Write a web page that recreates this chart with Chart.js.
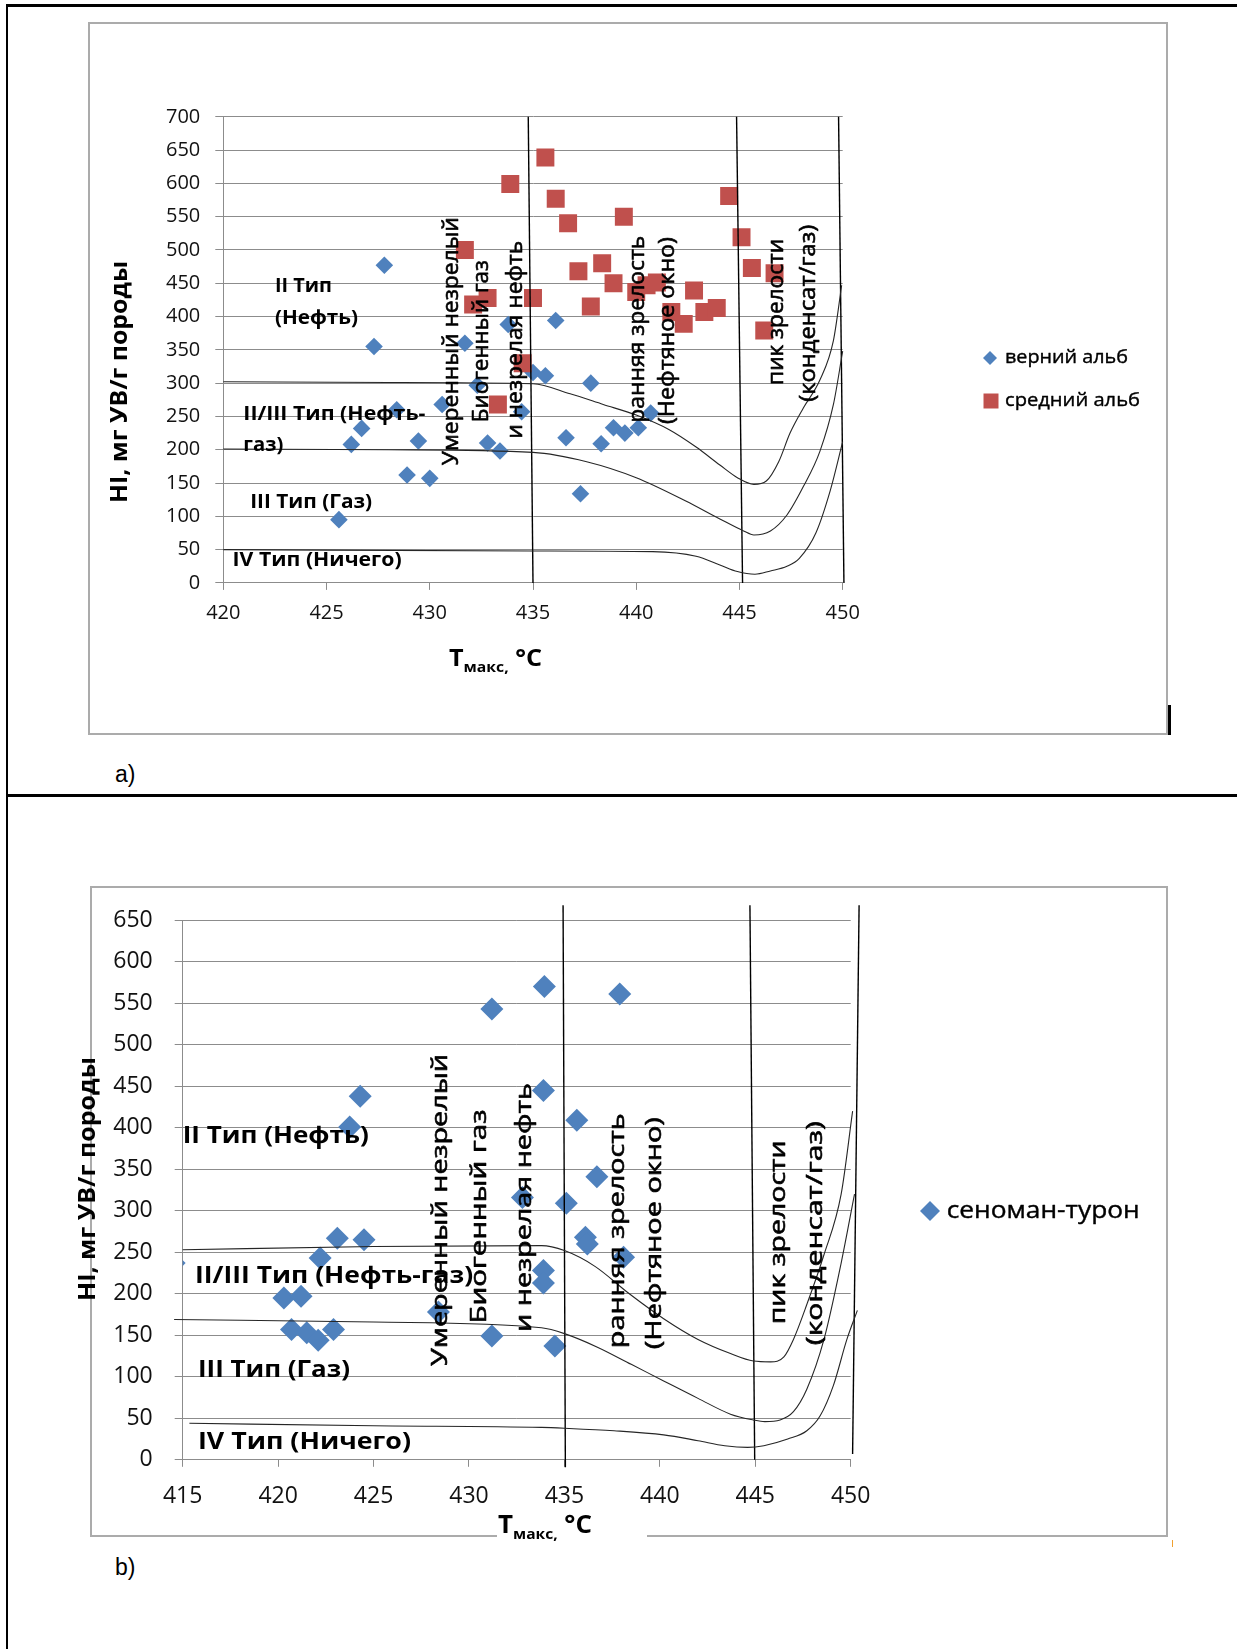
<!DOCTYPE html>
<html>
<head>
<meta charset="utf-8">
<script src="https://cdn.jsdelivr.net/npm/chart.js"></script>
<style>
    html, body { margin: 0; padding: 0; background: #fff; }
    body { width: 1237px; height: 1649px; position: relative; overflow: hidden; }
    .rule { position: absolute; background: #000; }
    .frame { position: absolute; box-sizing: border-box; border: 2px solid #ababab; }
    .cap { position: absolute; font-family: "Liberation Sans", Arial, sans-serif; font-size: 23px; color: #000; line-height: 26px; }
    canvas { position: absolute; left: 0; }
</style>
</head>
<body>
<div class="rule" style="left:6px;top:4px;width:1231px;height:3px"></div>
<div class="rule" style="left:6px;top:4px;width:2px;height:1645px"></div>
<div class="rule" style="left:6px;top:794px;width:1231px;height:3px"></div>
<div class="frame" style="left:88px;top:22px;width:1080px;height:713px"></div>
<div class="frame" style="left:90px;top:886px;width:1078px;height:651px"></div>
<div class="rule" style="left:1168px;top:705px;width:3px;height:30px"></div>
<div style="position:absolute;left:1172px;top:1540px;width:1px;height:7px;background:#f0a030"></div>
<div class="cap" style="left:115px;top:761px">a)</div>
<div class="cap" style="left:115px;top:1554px">b)</div>
<canvas id="chartA" width="1237" height="790" style="top:0"></canvas>
<canvas id="chartB" width="1237" height="800" style="top:800px"></canvas>

<script>
/**------------------------------------------------------------------------------------------------  DATA  */
// a) верний альб
const upperAlbT  = [425.6, 426.2, 426.7, 427.3, 427.8, 428.4, 428.9, 429.45, 430.0, 430.6, 431.7, 432.3, 432.8, 433.4,
                    433.8, 434.45, 435.0, 435.6, 436.1, 436.6, 437.3, 437.8, 438.3, 438.9, 439.45, 440.1, 440.7];
const upperAlbHI = [95, 208, 232, 355, 477, 260, 162, 213, 157, 268, 360, 297, 210, 198,
                    388, 257, 316, 311, 394, 218, 134, 300, 209, 233, 225, 233, 255];
// a) средний альб
const middleAlbT  = [431.7, 432.1, 432.8, 433.3, 433.9, 434.5, 435.0, 435.6, 436.1, 436.7, 437.2, 437.8, 438.35, 438.9,
                     439.4, 440.0, 440.5, 441.0, 441.7, 442.3, 442.8, 443.3, 443.9, 444.5, 445.1, 445.6, 446.2, 446.7];
const middleAlbHI = [500, 418, 428, 268, 599, 330, 428, 639, 577, 540, 468, 415, 480, 450,
                     550, 437, 447, 451, 407, 389, 439, 407, 413, 581, 519, 473, 379, 465];
// b) сеноман-турон
const cenTurT  = [414.55, 414.55, 414.55, 420.3, 420.7, 421.2, 421.5, 422.1, 422.2, 422.9, 423.1, 423.75, 424.3, 424.5, 428.4,
                  431.2, 431.2, 432.8, 433.9, 433.9, 433.9, 433.95, 434.5, 435.1, 435.65, 436.1, 436.2, 436.7, 437.9, 438.1];
const cenTurHI = [432, 340, 237, 195, 157, 197, 153, 144, 243, 157, 267, 401, 438, 265, 178,
                  543, 149, 316, 445, 228, 213, 570, 137, 309, 409, 268, 260, 341, 561, 244];

// kerogen type boundaries, a)
const aTopT  = [420, 428, 435, 436.8, 438.4, 440.0, 441.6, 442.9, 444.05, 444.9, 445.7, 446.3, 446.9, 447.45, 448.1, 448.9, 449.55, 449.95];
const aTopHI = [302, 301, 299, 284, 268, 252, 230, 204, 177, 158, 148, 153, 182, 225, 263, 305, 364, 447];
const aMidT  = [420, 428, 435, 437.6, 440.0, 442.4, 444.05, 445.2, 445.7, 446.5, 447.3, 448.1, 448.9, 449.55, 450.0];
const aMidHI = [201, 200, 196, 182, 158, 123, 96, 78, 72, 78, 102, 145, 198, 268, 348];
const aLowT  = [420, 435, 440.8, 442.9, 444.05, 444.9, 445.75, 446.5, 447.3, 447.9, 448.7, 449.4, 450.0];
const aLowHI = [50, 48, 47, 40, 27, 17, 13, 18, 25, 37, 75, 139, 212];

// kerogen type boundaries, b)
const bTopT  = [415, 425, 433.8, 435, 436.6, 438.4, 440.2, 442.0, 443.7, 444.9, 445.8, 446.5, 447.0, 447.7, 448.6, 449.5, 450.1];
const bTopHI = [253, 257, 258, 252, 233, 200, 170, 145, 128, 119, 118, 124, 145, 187, 247, 320, 420];
const bMidT  = [414.55, 425, 433.8, 435, 436.7, 438.5, 440.2, 442.0, 443.7, 444.9, 445.5, 446.3, 447.0, 447.7, 448.6, 449.5, 450.2];
const bMidHI = [169, 166, 159, 152, 136, 115, 95, 74, 55, 48, 46, 48, 58, 85, 145, 237, 320];
const bLowT  = [415.35, 425, 433.8, 435, 437.6, 440.2, 442.0, 443.4, 444.6, 445.45, 446.7, 447.7, 448.4, 449.1, 449.8, 450.35];
const bLowHI = [44, 41, 39, 38, 35, 30, 23, 17, 15, 17, 25, 35, 53, 90, 145, 180];

// maturity zone borders (Tmax at top / bottom of each line)
const aZoneTopT = [434.77, 444.86, 449.8];
const aZoneBotT = [435.0, 445.15, 450.06];
const aZoneHI   = [700, 0];
const bZoneTopT = [434.93, 444.72, 450.44];
const bZoneBotT = [435.05, 444.97, 450.1];
const bZoneTopHI = [668, 668, 668];
const bZoneBotHI = [-9, 0, 7];

const zoneNames = ['Умеренный незрелый', 'Биогенный газ', 'и незрелая нефть', 'ранняя зрелость',
                   '(Нефтяное окно)', 'пик зрелости', '(конденсат/газ)'];
const typeNamesA = ['II Тип', '(Нефть)', 'II/III Тип (Нефть-', 'газ)', 'III Тип (Газ)', 'IV Тип (Ничего)'];
const typeNamesB = ['II Тип (Нефть)', 'II/III Тип (Нефть-газ)', 'III Тип (Газ)', 'IV Тип (Ничего)'];

/**------------------------------------------------------------------------------------------------  HELPERS  */
const GRID = '#8c8c8c';
const BLUE = '#4f81bd';
const RED = '#c0504d';

const pts = (xs, ys) => xs.map((x, i) => ({x: x, y: ys[i]}));

function curve(xs, ys) {
    return {
        data: pts(xs, ys), showLine: true, borderColor: '#262626', borderWidth: 1.1,
        pointRadius: 0, cubicInterpolationMode: 'monotone', clip: false, order: 0
    };
}

function zoneLines(topT, botT, topHI, botHI) {
    return topT.map((t, i) => ({
        data: [{x: t, y: topHI[i]}, {x: botT[i], y: botHI[i]}],
        showLine: true, borderColor: '#000', borderWidth: 1.4, pointRadius: 0, clip: false, order: 0
    }));
}

// draws text stretched along its direction to a given length; heavy adds a thin outline
function fitText(ctx, text, x, y, len, font, vertical, align, heavy) {
    ctx.save();
    ctx.font = font;
    const k = len / ctx.measureText(text).width;
    ctx.translate(x, y);
    if (vertical) ctx.rotate(-Math.PI / 2);
    ctx.scale(k, 1);
    ctx.textAlign = align;
    ctx.textBaseline = 'middle';
    ctx.fillStyle = '#000';
    ctx.fillText(text, 0, 0);
    if (heavy) {
        ctx.strokeStyle = '#000';
        ctx.lineWidth = heavy;
        ctx.lineJoin = 'round';
        ctx.strokeText(text, 0, 0);
    }
    ctx.restore();
}

function drawTmax(ctx, t) {
    const f1 = 'bold ' + t.big + 'px "Open Sans"';
    const f2 = 'bold ' + t.small + 'px "Open Sans"';
    ctx.save();
    if (t.bg) {
        ctx.fillStyle = '#fff';
        ctx.fillRect(t.bg[0], t.bg[1], t.bg[2], t.bg[3]);
    }
    ctx.font = f1;
    const wT = ctx.measureText('T').width;
    const wC = ctx.measureText(' °C').width;
    ctx.font = f2;
    const wS = ctx.measureText('макс,').width;
    const k = (t.right - t.left) / (wT + wS + wC);
    ctx.translate(t.left, t.base);
    ctx.scale(k, 1);
    ctx.textAlign = 'left';
    ctx.textBaseline = 'alphabetic';
    ctx.fillStyle = '#000';
    ctx.font = f1;
    ctx.fillText('T', 0, 0);
    ctx.font = f2;
    ctx.fillText('макс,', wT, t.small * 0.38);
    ctx.font = f1;
    ctx.fillText(' °C', wT + wS, 0);
    ctx.restore();
}

function marker(ctx, style, x, y, r, color) {
    ctx.fillStyle = color;
    ctx.beginPath();
    if (style === 'rectRot') {
        ctx.moveTo(x - r, y); ctx.lineTo(x, y - r); ctx.lineTo(x + r, y); ctx.lineTo(x, y + r);
        ctx.closePath();
    } else {
        ctx.rect(x - r, y - r, 2 * r, 2 * r);
    }
    ctx.fill();
}

function overlay(spec) {
    return {
        id: 'overlay',
        afterDatasetsDraw: (chart) => {
            const ctx = chart.ctx;
            const sx = chart.scales.x, sy = chart.scales.y;
            spec.zones.forEach((z, i) => {
                fitText(ctx, zoneNames[i], sx.getPixelForValue(z[0]), sy.getPixelForValue(z[1]), z[2], spec.zoneFont, true, 'center', 0.6);
            });
            spec.types.forEach((z, i) => {
                fitText(ctx, spec.typeNames[i], sx.getPixelForValue(z[0]), sy.getPixelForValue(z[1]), z[2], spec.typeFont, false, 'left', 0);
            });
        },
        afterDraw: (chart) => {
            const ctx = chart.ctx;
            const yt = spec.yTitle;
            fitText(ctx, 'HI, мг УВ/г породы', yt.x, yt.y, yt.len, yt.font, true, 'center', 0);
            drawTmax(ctx, spec.xTitle);
            spec.legend.forEach(l => {
                marker(ctx, l.style, l.mx, l.my, l.r, l.color);
                fitText(ctx, l.text, l.tx, l.my, l.len, l.font, false, 'left', 0.4);
            });
        }
    };
}

function buildChart(id, o) {
    return new Chart(document.getElementById(id), {
        type: 'scatter',
        data: {datasets: o.datasets},
        options: {
            responsive: false,
            animation: false,
            devicePixelRatio: 1,
            events: [],
            layout: {padding: {left: o.area.left - o.yWidth, top: o.area.top, right: o.w - o.area.right, bottom: 0}},
            plugins: {legend: {display: false}, tooltip: {enabled: false}},
            scales: {
                x: {
                    type: 'linear', min: o.xMin, max: o.xMax,
                    afterFit: (s) => { s.height = o.h - o.area.bottom; },
                    ticks: {stepSize: 5, padding: o.xPad, maxRotation: 0, color: '#111', font: o.tickFont},
                    grid: {drawOnChartArea: false, tickLength: 7, color: GRID},
                    border: {color: GRID}
                },
                y: {
                    type: 'linear', min: 0, max: o.yMax,
                    afterFit: (s) => { s.width = o.yWidth; },
                    ticks: {stepSize: 50, padding: o.yPad, color: '#111', font: o.tickFont},
                    grid: {tickLength: 8, color: GRID},
                    border: {color: GRID}
                }
            }
        },
        plugins: [overlay(o.spec)]
    });
}

/**------------------------------------------------------------------------------------------------  CHART A  */
buildChart('chartA', {
    w: 1237, h: 790,
    area: {left: 223.3, top: 116.8, right: 842.7, bottom: 582.9},
    yWidth: 80, xMin: 420, xMax: 450, yMax: 700, xPad: 11, yPad: 15,
    tickFont: {family: 'Open Sans', size: 20},
    datasets: [
        curve(aTopT, aTopHI), curve(aMidT, aMidHI), curve(aLowT, aLowHI),
        ...zoneLines(aZoneTopT, aZoneBotT, [aZoneHI[0], aZoneHI[0], aZoneHI[0]], [aZoneHI[1], aZoneHI[1], aZoneHI[1]]),
        {label: 'средний альб', data: pts(middleAlbT, middleAlbHI), pointStyle: 'rect', pointRadius: 12.7,
         pointBorderWidth: 0, backgroundColor: RED, order: 1},
        {label: 'верний альб', data: pts(upperAlbT, upperAlbHI), pointStyle: 'rectRot', pointRadius: 8.8,
         pointBorderWidth: 0, backgroundColor: BLUE, order: 2}
    ],
    spec: {
        zoneFont: '21px "Open Sans"',
        zones: [[431.1, 363, 248], [432.55, 363, 162], [434.17, 365, 198], [440.1, 381, 187],
                [441.55, 379, 187], [446.83, 407, 146], [448.37, 405, 177]],
        typeFont: 'bold 20px "Open Sans"',
        typeNames: typeNamesA,
        types: [[422.5, 445, 57], [422.5, 398, 83], [420.97, 253, 182], [420.97, 207, 40],
                [421.3, 121, 122], [420.45, 34, 169]],
        yTitle: {x: 120, y: 382, len: 242, font: 'bold 23px "Open Sans"'},
        xTitle: {left: 449, right: 542, base: 666, big: 24, small: 15},
        legend: [
            {style: 'rectRot', color: BLUE, r: 7, mx: 990, my: 358, tx: 1005, len: 123, font: '19px "Open Sans"', text: 'верний альб'},
            {style: 'rect', color: RED, r: 7.5, mx: 991, my: 401, tx: 1005, len: 135, font: '19px "Open Sans"', text: 'средний альб'}
        ]
    }
});

/**------------------------------------------------------------------------------------------------  CHART B  */
buildChart('chartB', {
    w: 1237, h: 800,
    area: {left: 182.7, top: 120.2, right: 850.7, bottom: 659.8},
    yWidth: 90, xMin: 415, xMax: 450, yMax: 650, xPad: 16, yPad: 22,
    tickFont: {family: 'Open Sans', size: 23},
    datasets: [
        curve(bTopT, bTopHI), curve(bMidT, bMidHI), curve(bLowT, bLowHI),
        ...zoneLines(bZoneTopT, bZoneBotT, bZoneTopHI, bZoneBotHI),
        {label: 'сеноман-турон', data: pts(cenTurT, cenTurHI), pointStyle: 'rectRot', pointRadius: 11.5,
         pointBorderWidth: 0, backgroundColor: BLUE, clip: 0, order: 1}
    ],
    spec: {
        zoneFont: '22px "Open Sans"',
        zones: [[428.51, 301, 312], [430.55, 293, 214], [432.9, 304, 249], [437.8, 276, 235],
                [439.72, 273, 232], [446.24, 274, 184], [448.16, 273, 224]],
        typeFont: 'bold 24px "Open Sans"',
        typeNames: typeNamesB,
        types: [[415.0, 390, 186], [415.65, 221, 278], [415.8, 108, 152], [415.8, 21, 213]],
        yTitle: {x: 88, y: 379, len: 244, font: 'bold 24px "Open Sans"'},
        xTitle: {left: 498, right: 592, base: 733, big: 25, small: 15, bg: [497, 705, 150, 38]},
        legend: [
            {style: 'rectRot', color: BLUE, r: 10, mx: 930, my: 411, tx: 946.7, len: 193, font: '24px "Open Sans"', text: 'сеноман-турон'}
        ]
    }
});
</script>
</body>
</html>
